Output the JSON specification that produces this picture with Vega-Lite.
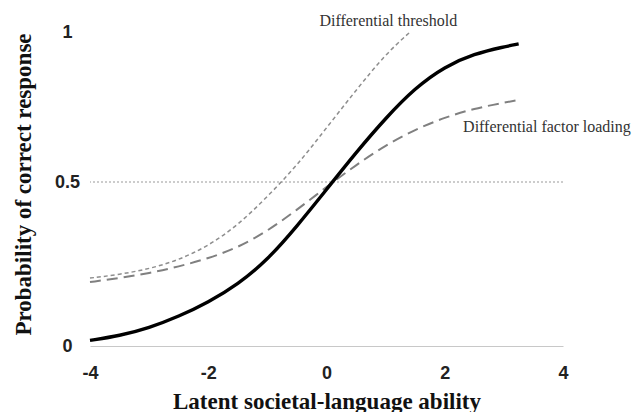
{
  "$schema": "https://vega.github.io/schema/vega-lite/v6.json",
  "width": 473,
  "height": 328,
  "autosize": "none",
  "padding": {"left": 90, "top": 18, "right": 73, "bottom": 66},
  "background": "white",
  "config": {"view": {"stroke": null}},
  "datasets": {
    "curves": [
      {"curve": "Differential threshold", "x": -4, "p": 0.207},
      {"curve": "Differential threshold", "x": -3.5, "p": 0.218},
      {"curve": "Differential threshold", "x": -3, "p": 0.235},
      {"curve": "Differential threshold", "x": -2.5, "p": 0.262},
      {"curve": "Differential threshold", "x": -2, "p": 0.305},
      {"curve": "Differential threshold", "x": -1.5, "p": 0.368},
      {"curve": "Differential threshold", "x": -1, "p": 0.455},
      {"curve": "Differential threshold", "x": -0.5, "p": 0.55},
      {"curve": "Differential threshold", "x": 0, "p": 0.665},
      {"curve": "Differential threshold", "x": 0.5, "p": 0.78},
      {"curve": "Differential threshold", "x": 1, "p": 0.89},
      {"curve": "Differential threshold", "x": 1.4, "p": 0.955},
      {"curve": "Differential factor loading", "x": -4, "p": 0.195},
      {"curve": "Differential factor loading", "x": -3.5, "p": 0.207},
      {"curve": "Differential factor loading", "x": -3, "p": 0.222},
      {"curve": "Differential factor loading", "x": -2.5, "p": 0.242},
      {"curve": "Differential factor loading", "x": -2, "p": 0.267},
      {"curve": "Differential factor loading", "x": -1.5, "p": 0.3},
      {"curve": "Differential factor loading", "x": -1, "p": 0.35},
      {"curve": "Differential factor loading", "x": -0.5, "p": 0.415},
      {"curve": "Differential factor loading", "x": 0, "p": 0.485},
      {"curve": "Differential factor loading", "x": 0.5, "p": 0.552},
      {"curve": "Differential factor loading", "x": 1, "p": 0.612},
      {"curve": "Differential factor loading", "x": 1.5, "p": 0.66},
      {"curve": "Differential factor loading", "x": 2, "p": 0.697},
      {"curve": "Differential factor loading", "x": 2.5, "p": 0.724},
      {"curve": "Differential factor loading", "x": 3, "p": 0.742},
      {"curve": "Differential factor loading", "x": 3.25, "p": 0.75},
      {"curve": "Reference", "x": -4, "p": 0.017},
      {"curve": "Reference", "x": -3.5, "p": 0.031},
      {"curve": "Reference", "x": -3, "p": 0.055},
      {"curve": "Reference", "x": -2.5, "p": 0.09},
      {"curve": "Reference", "x": -2, "p": 0.133},
      {"curve": "Reference", "x": -1.5, "p": 0.188},
      {"curve": "Reference", "x": -1, "p": 0.262},
      {"curve": "Reference", "x": -0.5, "p": 0.365},
      {"curve": "Reference", "x": 0, "p": 0.477},
      {"curve": "Reference", "x": 0.5, "p": 0.59},
      {"curve": "Reference", "x": 1, "p": 0.695},
      {"curve": "Reference", "x": 1.5, "p": 0.787},
      {"curve": "Reference", "x": 2, "p": 0.852},
      {"curve": "Reference", "x": 2.5, "p": 0.891},
      {"curve": "Reference", "x": 3, "p": 0.912},
      {"curve": "Reference", "x": 3.25, "p": 0.921}
    ],
    "labels": [
      {"label": "Differential threshold", "x": -0.12, "p": 0.99},
      {"label": "Differential factor loading", "x": 2.31, "p": 0.668}
    ],
    "midline": [{"p": 0.5}]
  },
  "layer": [
    {
      "data": {"name": "midline"},
      "mark": {"type": "rule", "color": "#999999", "strokeWidth": 1, "strokeDash": [2, 2]},
      "encoding": {
        "y": {"field": "p", "type": "quantitative"}
      }
    },
    {
      "data": {"name": "curves"},
      "transform": [{"filter": "datum.curve === 'Differential threshold'"}],
      "mark": {"type": "line", "color": "#8e8e8e", "strokeWidth": 1.5, "strokeDash": [4, 3], "interpolate": "basis"},
      "encoding": {
        "x": {
          "field": "x", "type": "quantitative",
          "scale": {"domain": [-4, 4], "nice": false, "zero": false},
          "axis": {
            "values": [-4, -2, 0, 2, 4],
            "labelExpr": "'' + datum.value",
            "labelFlush": false,
            "title": "Latent societal-language ability",
            "grid": false, "ticks": false, "tickSize": 0,
            "domain": true, "domainColor": "#c8c8c8", "domainWidth": 1,
            "labelFont": "Liberation Sans", "labelFontWeight": "bold", "labelFontSize": 18, "labelColor": "#222222",
            "labelPadding": 18, "labelBaseline": "top",
            "titleFont": "Liberation Serif", "titleFontWeight": "bold", "titleFontSize": 23, "titleColor": "#111111",
            "titleX": 236.5, "titleY": 62, "titleBaseline": "alphabetic", "titleAlign": "center"
          }
        },
        "y": {
          "field": "p", "type": "quantitative",
          "scale": {"domain": [0, 1], "nice": false},
          "axis": {
            "values": [0, 0.5, 0.955],
            "labelExpr": "datum.value > 0.9 ? '1' : '' + datum.value",
            "labelFlush": false,
            "title": "Probability of correct response",
            "grid": false, "ticks": false, "tickSize": 0, "domain": false,
            "labelFont": "Liberation Sans", "labelFontWeight": "bold", "labelFontSize": 18, "labelColor": "#222222",
            "labelAlign": "center", "labelBaseline": "middle", "labelPadding": 23,
            "titleFont": "Liberation Serif", "titleFontWeight": "bold", "titleFontSize": 23, "titleColor": "#111111",
            "titleAngle": -90, "titleX": -60, "titleY": 166, "titleBaseline": "alphabetic", "titleAlign": "center"
          }
        }
      }
    },
    {
      "data": {"name": "curves"},
      "transform": [{"filter": "datum.curve === 'Differential factor loading'"}],
      "mark": {"type": "line", "color": "#808080", "strokeWidth": 2, "strokeDash": [11, 6], "interpolate": "basis"},
      "encoding": {
        "x": {"field": "x", "type": "quantitative"},
        "y": {"field": "p", "type": "quantitative"}
      }
    },
    {
      "data": {"name": "curves"},
      "transform": [{"filter": "datum.curve === 'Reference'"}],
      "mark": {"type": "line", "color": "#000000", "strokeWidth": 3.4, "interpolate": "basis"},
      "encoding": {
        "x": {"field": "x", "type": "quantitative"},
        "y": {"field": "p", "type": "quantitative"}
      }
    },
    {
      "data": {"name": "labels"},
      "mark": {"type": "text", "align": "left", "baseline": "middle", "font": "Liberation Serif", "fontSize": 16, "color": "#333333"},
      "encoding": {
        "x": {"field": "x", "type": "quantitative"},
        "y": {"field": "p", "type": "quantitative"},
        "text": {"field": "label"}
      }
    }
  ]
}
